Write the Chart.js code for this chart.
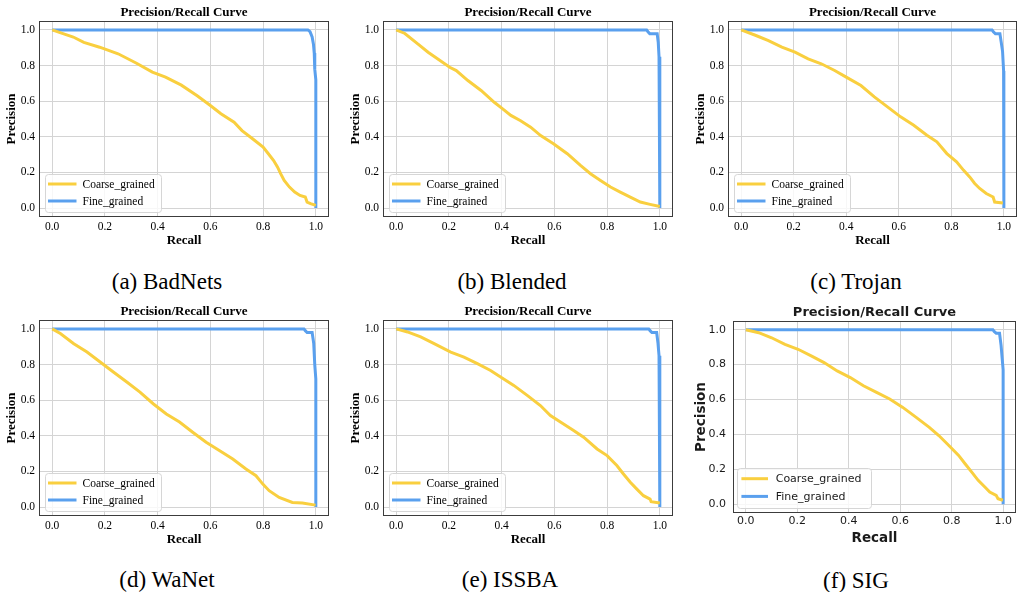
<!DOCTYPE html>
<html>
<head>
<meta charset="utf-8">
<script src="https://cdn.jsdelivr.net/npm/chart.js@4.4.0/dist/chart.umd.min.js"></script>
<style>
  body { margin: 0; background: #fff; }
  #fig { position: relative; width: 1020px; height: 592px; overflow: hidden; background: #fff; }
  #fig canvas { position: absolute; }
  .cap { position: absolute; font-family: "Liberation Serif", serif; font-size: 23px; color: #000;
         transform: translate(-50%, -50%); white-space: nowrap; }
</style>
</head>
<body>
<div id="fig"></div>
<script>
// ---- data ----
const tickVals = [0, 0.2, 0.4, 0.6, 0.8, 1.0];
const seriesNames = ['Coarse_grained', 'Fine_grained'];
const captions = ['(a) BadNets', '(b) Blended', '(c) Trojan', '(d) WaNet', '(e) ISSBA', '(f) SIG'];

// (a) BadNets
const badnetsCoarseRecall = [0, 0.03, 0.08, 0.12, 0.18, 0.25, 0.32, 0.38, 0.43, 0.49, 0.55, 0.6, 0.64, 0.69, 0.72, 0.76, 0.8, 0.82, 0.84, 0.855, 0.867, 0.88, 0.9, 0.92, 0.94, 0.96, 0.967, 0.98, 1.0];
const badnetsCoarsePrec   = [1, 0.985, 0.96, 0.93, 0.903, 0.866, 0.813, 0.763, 0.735, 0.69, 0.63, 0.576, 0.53, 0.482, 0.435, 0.389, 0.342, 0.305, 0.267, 0.23, 0.192, 0.155, 0.118, 0.09, 0.071, 0.062, 0.034, 0.025, 0.015];
const badnetsFineRecall = [0, 0.97, 0.978, 0.986, 0.991, 0.994, 0.996, 1.0, 1.0];
const badnetsFinePrec   = [1, 1, 0.99, 0.96, 0.92, 0.87, 0.78, 0.72, 0];

// (b) Blended
const blendedCoarseRecall = [0, 0.033, 0.083, 0.121, 0.158, 0.203, 0.228, 0.272, 0.322, 0.372, 0.404, 0.435, 0.472, 0.51, 0.548, 0.598, 0.649, 0.699, 0.737, 0.775, 0.813, 0.85, 0.888, 0.926, 0.963, 1.0];
const blendedCoarsePrec   = [1, 0.98, 0.92, 0.875, 0.837, 0.79, 0.772, 0.716, 0.66, 0.594, 0.557, 0.52, 0.49, 0.454, 0.407, 0.36, 0.305, 0.24, 0.193, 0.155, 0.118, 0.09, 0.062, 0.034, 0.021, 0.009];
const blendedFineRecall = [0, 0.95, 0.955, 0.962, 0.99, 0.994, 0.997, 1.0, 1.0];
const blendedFinePrec   = [1, 1, 0.99, 0.978, 0.978, 0.93, 0.85, 0.75, 0];

// (c) Trojan
const trojanCoarseRecall = [0, 0.054, 0.104, 0.155, 0.205, 0.255, 0.305, 0.356, 0.4, 0.456, 0.507, 0.557, 0.607, 0.657, 0.707, 0.745, 0.783, 0.82, 0.846, 0.87, 0.889, 0.908, 0.933, 0.959, 0.965, 0.996];
const trojanCoarsePrec   = [1, 0.97, 0.94, 0.903, 0.875, 0.837, 0.81, 0.772, 0.735, 0.688, 0.624, 0.568, 0.512, 0.465, 0.409, 0.372, 0.306, 0.26, 0.213, 0.175, 0.138, 0.11, 0.082, 0.062, 0.034, 0.028];
const trojanFineRecall = [0, 0.955, 0.96, 0.968, 0.985, 0.99, 0.995, 0.999, 1.0, 1.0];
const trojanFinePrec   = [1, 1, 0.99, 0.978, 0.978, 0.93, 0.88, 0.77, 0.72, 0];

// (d) WaNet
const wanetCoarseRecall = [0, 0.031, 0.082, 0.132, 0.182, 0.232, 0.283, 0.333, 0.383, 0.433, 0.483, 0.533, 0.584, 0.634, 0.685, 0.735, 0.773, 0.799, 0.823, 0.861, 0.911, 0.949, 0.999];
const wanetCoarsePrec   = [1, 0.974, 0.917, 0.87, 0.814, 0.758, 0.702, 0.645, 0.58, 0.523, 0.477, 0.42, 0.364, 0.317, 0.27, 0.214, 0.176, 0.129, 0.092, 0.054, 0.026, 0.023, 0.011];
const wanetFineRecall = [0, 0.955, 0.96, 0.967, 0.986, 0.992, 0.996, 1.0, 1.0];
const wanetFinePrec   = [1, 1, 0.99, 0.98, 0.98, 0.92, 0.8, 0.72, 0];

// (e) ISSBA
const issbaCoarseRecall = [0, 0.043, 0.093, 0.144, 0.207, 0.257, 0.308, 0.358, 0.396, 0.446, 0.497, 0.547, 0.585, 0.623, 0.673, 0.711, 0.762, 0.8, 0.837, 0.862, 0.888, 0.913, 0.938, 0.963, 0.967, 1.0];
const issbaCoarsePrec   = [1, 0.983, 0.955, 0.917, 0.87, 0.842, 0.805, 0.767, 0.73, 0.683, 0.627, 0.57, 0.514, 0.477, 0.43, 0.392, 0.326, 0.289, 0.233, 0.186, 0.139, 0.101, 0.064, 0.045, 0.03, 0.023];
const issbaFineRecall = [0, 0.958, 0.963, 0.97, 0.988, 0.993, 0.997, 1.0, 1.0];
const issbaFinePrec   = [1, 1, 0.99, 0.98, 0.98, 0.92, 0.85, 0.78, 0];

// (f) SIG
const sigCoarseRecall = [0, 0.05, 0.1, 0.152, 0.203, 0.254, 0.304, 0.355, 0.406, 0.457, 0.508, 0.559, 0.61, 0.662, 0.713, 0.75, 0.789, 0.827, 0.852, 0.878, 0.903, 0.929, 0.948, 0.973, 0.98, 0.999];
const sigCoarsePrec   = [1, 0.983, 0.954, 0.916, 0.888, 0.85, 0.812, 0.764, 0.726, 0.679, 0.641, 0.603, 0.555, 0.498, 0.441, 0.394, 0.337, 0.28, 0.232, 0.184, 0.137, 0.099, 0.07, 0.051, 0.032, 0.023];
const sigFineRecall = [0, 0.96, 0.965, 0.973, 0.986, 0.992, 0.996, 1.0, 1.0];
const sigFinePrec   = [1, 1, 0.99, 0.98, 0.98, 0.91, 0.84, 0.77, 0];

// ---- styles ----
const COARSE = '#f9cf3f';
const FINE = '#5aa0ee';

const serif = {
  family: '"Liberation Serif", serif', text: '#000',
  titleFont: 'bold 13px "Liberation Serif"', labelFont: 'bold 13px "Liberation Serif"',
  tickSize: 11.5, yPad: 4, xPad: 3,
  titleDy: -8, xLabelDy: 23.5, yLabelDx: -27,
  legend: { font: '11.5px "Liberation Serif"', dx: 6, bottom: 5, w: 116, h: 38, row0: 10, gap: 17, l0: 3, l1: 31.5, tx: 37.5 }
};
const sans = {
  family: '"DejaVu Sans", sans-serif', text: '#1a1a1a',
  titleFont: 'bold 13px "DejaVu Sans"', labelFont: 'bold 13.5px "DejaVu Sans"',
  tickSize: 11, yPad: 7, xPad: 2,
  titleDy: -8.5, xLabelDy: 25.5, yLabelDx: -31.5,
  legend: { font: '11px "DejaVu Sans"', dx: 4, bottom: 5, w: 134, h: 40, row0: 10.7, gap: 17.7, l0: 4.4, l1: 31, tx: 38.7 }
};

// chart area box of each panel in page pixels [left, top, right, bottom], caption centre
const panels = [
  { box: [39, 21, 329, 217],   cap: [167, 282], st: serif, c: [badnetsCoarseRecall, badnetsCoarsePrec], f: [badnetsFineRecall, badnetsFinePrec] },
  { box: [383, 21, 673, 217],  cap: [512, 282], st: serif, c: [blendedCoarseRecall, blendedCoarsePrec], f: [blendedFineRecall, blendedFinePrec] },
  { box: [728, 21, 1017, 217], cap: [856, 282], st: serif, c: [trojanCoarseRecall, trojanCoarsePrec], f: [trojanFineRecall, trojanFinePrec] },
  { box: [39, 320, 329, 516],  cap: [167, 580], st: serif, c: [wanetCoarseRecall, wanetCoarsePrec], f: [wanetFineRecall, wanetFinePrec] },
  { box: [383, 320, 673, 516], cap: [510, 580], st: serif, c: [issbaCoarseRecall, issbaCoarsePrec], f: [issbaFineRecall, issbaFinePrec] },
  { box: [733, 321, 1016, 513], cap: [856, 581], st: sans, c: [sigCoarseRecall, sigCoarsePrec], f: [sigFineRecall, sigFinePrec] }
];

const PADL = 45, PADT = 22, PADR = 3, PADB = 36;

const decoPlugin = {
  id: 'deco',
  afterDraw(chart, args, o) {
    const ctx = chart.ctx, a = chart.chartArea;
    const cx = (a.left + a.right) / 2, cy = (a.top + a.bottom) / 2;
    ctx.save();
    // frame
    ctx.strokeStyle = '#3c3c3c';
    ctx.lineWidth = 1;
    ctx.strokeRect(Math.round(a.left) + 0.5, Math.round(a.top) + 0.5, Math.round(a.width) - 1, Math.round(a.height) - 1);
    // title + axis labels
    ctx.fillStyle = o.text;
    ctx.textAlign = 'center';
    ctx.textBaseline = 'middle';
    ctx.font = o.titleFont;
    ctx.fillText('Precision/Recall Curve', cx, a.top + o.titleDy);
    ctx.font = o.labelFont;
    ctx.fillText('Recall', cx, a.bottom + o.xLabelDy);
    ctx.save();
    ctx.translate(a.left + o.yLabelDx, cy);
    ctx.rotate(-Math.PI / 2);
    ctx.fillText('Precision', 0, 0);
    ctx.restore();
    // legend box, lower left inside axes
    const L = o.legend;
    const x0 = a.left + L.dx, y0 = a.bottom - L.bottom - L.h;
    ctx.beginPath();
    ctx.roundRect(x0 + 0.5, y0 + 0.5, L.w, L.h, 3);
    ctx.fillStyle = 'rgba(255,255,255,0.8)';
    ctx.fill();
    ctx.strokeStyle = '#d6d6d6';
    ctx.lineWidth = 1;
    ctx.stroke();
    chart.data.datasets.forEach((ds, i) => {
      const ry = y0 + L.row0 + i * L.gap;
      ctx.strokeStyle = ds.borderColor;
      ctx.lineWidth = 3;
      ctx.beginPath();
      ctx.moveTo(x0 + L.l0, ry);
      ctx.lineTo(x0 + L.l1, ry);
      ctx.stroke();
      ctx.fillStyle = o.text;
      ctx.textAlign = 'left';
      ctx.font = L.font;
      ctx.fillText(ds.label, x0 + L.tx, ry + 0.5);
    });
    ctx.restore();
  }
};

const fig = document.getElementById('fig');

function toPoints(xs, ys) {
  return xs.map((x, i) => ({ x: x, y: ys[i] }));
}

panels.forEach((p, k) => {
  const [l, t, r, b] = p.box;
  const cv = document.createElement('canvas');
  cv.width = r - l + PADL + PADR;
  cv.height = b - t + PADT + PADB;
  cv.style.left = (l - PADL) + 'px';
  cv.style.top = (t - PADT) + 'px';
  fig.appendChild(cv);

  const st = p.st;
  const tickFont = { family: st.family, size: st.tickSize };
  const fixTicks = s => { s.ticks = tickVals.map(v => ({ value: v })); };

  new Chart(cv, {
    type: 'scatter',
    data: {
      datasets: [
        { label: seriesNames[0], data: toPoints(p.c[0], p.c[1]), showLine: true, borderColor: COARSE,
          backgroundColor: COARSE, borderWidth: 3, pointRadius: 0, tension: 0 },
        { label: seriesNames[1], data: toPoints(p.f[0], p.f[1]), showLine: true, borderColor: FINE,
          backgroundColor: FINE, borderWidth: 3, pointRadius: 0, tension: 0 }
      ]
    },
    options: {
      responsive: false,
      animation: false,
      devicePixelRatio: 1,
      layout: { padding: { left: 0, top: PADT, right: PADR, bottom: 0 } },
      plugins: {
        legend: { display: false },
        tooltip: { enabled: false },
        deco: st
      },
      scales: {
        x: {
          type: 'linear', min: -0.05, max: 1.05,
          afterBuildTicks: fixTicks,
          afterFit: s => { s.height = PADB; },
          grid: { color: '#d4d4d4', lineWidth: 1, drawTicks: false },
          border: { display: false },
          ticks: { font: tickFont, color: st.text, padding: st.xPad, maxRotation: 0,
                   callback: v => v.toFixed(1) }
        },
        y: {
          type: 'linear', min: -0.05, max: 1.05,
          afterBuildTicks: fixTicks,
          afterFit: s => { s.width = PADL; },
          grid: { color: '#d4d4d4', lineWidth: 1, drawTicks: false },
          border: { display: false },
          ticks: { font: tickFont, color: st.text, padding: st.yPad,
                   callback: v => v.toFixed(1) }
        }
      }
    },
    plugins: [decoPlugin]
  });

  const cap = document.createElement('div');
  cap.className = 'cap';
  cap.textContent = captions[k];
  cap.style.left = p.cap[0] + 'px';
  cap.style.top = p.cap[1] + 'px';
  fig.appendChild(cap);
});
</script>
</body>
</html>
